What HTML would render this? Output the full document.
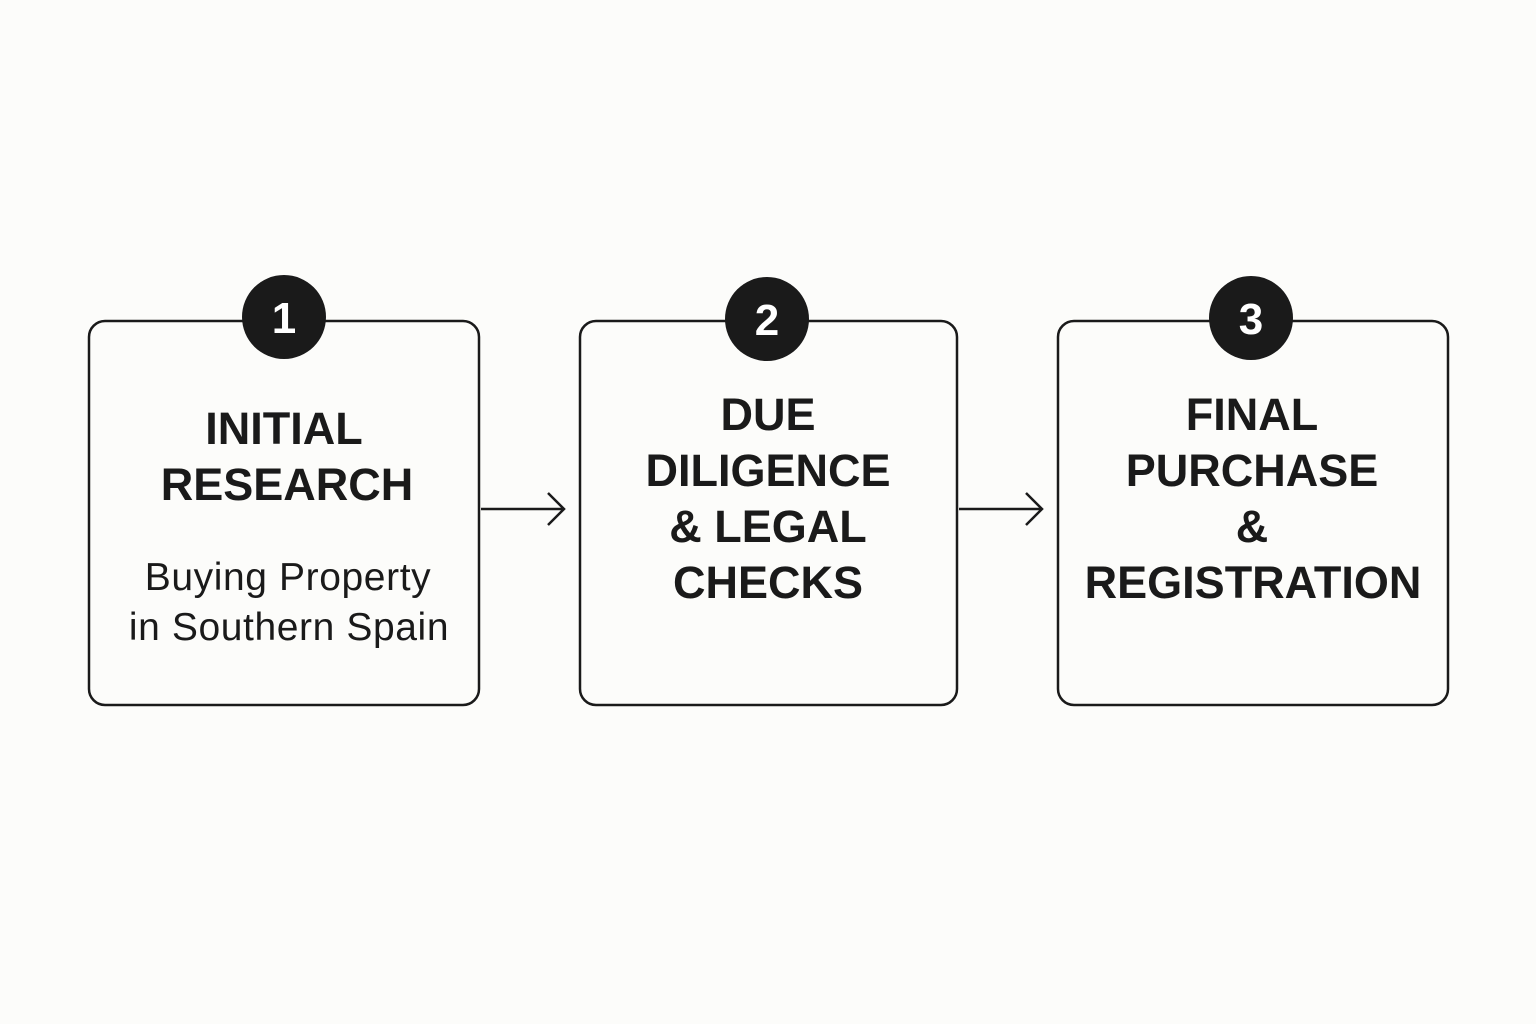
<!DOCTYPE html>
<html><head><meta charset="utf-8"><style>
html,body{margin:0;padding:0;background:#fcfcfa;}
svg{display:block}
.b{font-family:"Liberation Sans",sans-serif;font-weight:bold;font-size:45px;fill:#1a1a1a;text-anchor:middle}
.r{font-family:"Liberation Sans",sans-serif;font-size:39px;letter-spacing:0.6px;fill:#1a1a1a;text-anchor:middle}
.n{font-family:"Liberation Sans",sans-serif;font-weight:bold;font-size:44px;fill:#fff;text-anchor:middle}
</style></head><body>
<svg width="1536" height="1024" viewBox="0 0 1536 1024">
<rect width="1536" height="1024" fill="#fcfcfa"/>
<g fill="none" stroke="#1a1a1a" stroke-width="2.5">
<rect x="89" y="321" width="390" height="384" rx="16"/>
<rect x="580" y="321" width="377" height="384" rx="16"/>
<rect x="1058" y="321" width="390" height="384" rx="16"/>
<path d="M481 509H564M548 493L564 509L548 525"/>
<path d="M959 509H1042M1026 493L1042 509L1026 525"/>
</g>
<circle cx="284" cy="317" r="42" fill="#1a1a1a"/>
<circle cx="767" cy="319" r="42" fill="#1a1a1a"/>
<circle cx="1251" cy="318" r="42" fill="#1a1a1a"/>
<text class="n" x="284" y="333">1</text>
<text class="n" x="767" y="335">2</text>
<text class="n" x="1251" y="334">3</text>
<text class="b" x="284" y="444">INITIAL</text>
<text class="b" x="287" y="500">RESEARCH</text>
<text class="r" x="288" y="590">Buying Property</text>
<text class="r" x="289" y="640">in Southern Spain</text>
<text class="b" x="768" y="430">DUE</text>
<text class="b" x="768" y="486">DILIGENCE</text>
<text class="b" x="768" y="542">&amp; LEGAL</text>
<text class="b" x="768" y="598">CHECKS</text>
<text class="b" x="1252" y="430">FINAL</text>
<text class="b" x="1252" y="486">PURCHASE</text>
<text class="b" x="1252" y="542">&amp;</text>
<text class="b" x="1253" y="598">REGISTRATION</text>
</svg>
</body></html>
